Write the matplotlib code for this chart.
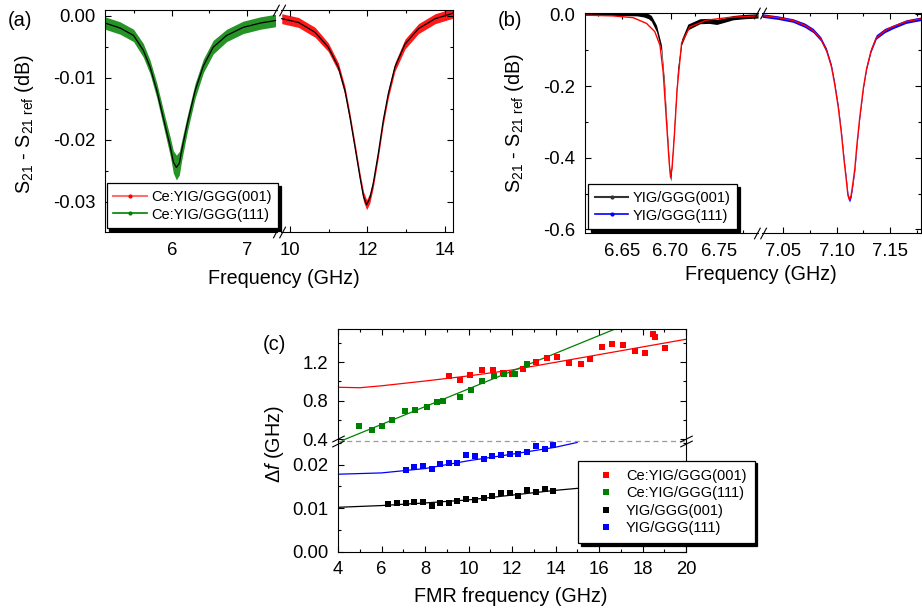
import matplotlib
matplotlib.use('Agg')
import matplotlib.pyplot as plt
from matplotlib.lines import Line2D
from matplotlib.path import Path
from matplotlib.ticker import MultipleLocator
import numpy as np

plt.rcParams['font.family'] = ['Liberation Sans', 'DejaVu Sans']
plt.rcParams['mathtext.fontset'] = 'custom'
plt.rcParams['mathtext.rm'] = 'Liberation Sans'
plt.rcParams['mathtext.it'] = 'Liberation Sans:italic'
plt.rcParams['axes.unicode_minus'] = False
plt.rcParams['axes.linewidth'] = 0.8

# ---- panel (a): Ce:YIG transmission dips
a_green_f = [5.11, 5.31, 5.49, 5.62, 5.71, 5.80, 5.89, 5.98, 6.02, 6.06, 6.10, 6.13,
             6.21, 6.31, 6.42, 6.55, 6.73, 6.95, 7.18, 7.38]
a_green_db = [-0.0012, -0.0020, -0.0032, -0.0056, -0.0083, -0.0121, -0.0167, -0.0212,
              -0.0236, -0.0245, -0.0238, -0.0218, -0.0172, -0.0121, -0.0081, -0.0051,
              -0.0032, -0.0019, -0.0012, -0.0008]
a_green_err = [0.0010, 0.0010, 0.0010, 0.0011, 0.0011, 0.0012, 0.0013, 0.0015, 0.0018, 0.0020,
               0.0019, 0.0016, 0.0013, 0.0012, 0.0011, 0.0011, 0.0010, 0.0010, 0.0010, 0.0010]

a_red_f = [9.79, 10.22, 10.65, 10.99, 11.25, 11.42, 11.55, 11.68, 11.81, 11.90, 11.98,
           12.06, 12.15, 12.28, 12.41, 12.54, 12.71, 12.97, 13.32, 13.75, 14.22]
a_red_db = [-0.0005, -0.0011, -0.0027, -0.0051, -0.0083, -0.0121, -0.0164, -0.0212,
            -0.0261, -0.0292, -0.0305, -0.0295, -0.0271, -0.0223, -0.0169, -0.0126,
            -0.0083, -0.0046, -0.0021, -0.0005, 0.0004]
a_red_err = [0.0008, 0.0008, 0.0008, 0.0007, 0.0007, 0.0007, 0.0007, 0.0007, 0.0007, 0.0008,
             0.0008, 0.0008, 0.0007, 0.0007, 0.0007, 0.0007, 0.0007, 0.0008, 0.0008, 0.0008, 0.0008]

a_xticks_left = [6, 7]
a_xticks_right = [10, 12, 14]
a_yticks = [0.00, -0.01, -0.02, -0.03]

# ---- panel (b): YIG transmission dips
b_black_f = [6.611, 6.630, 6.650, 6.665, 6.672, 6.677, 6.680, 6.6854, 6.6906, 6.694,
             6.6965, 6.699, 6.7003, 6.702, 6.7045, 6.7073, 6.7115, 6.718, 6.7305, 6.740,
             6.748, 6.756, 6.765, 6.777, 6.791]
b_black_db = [0.003, 0.003, 0.003, 0.002, -0.001, -0.005, -0.011, -0.039, -0.095, -0.207,
              -0.328, -0.440, -0.455, -0.393, -0.281, -0.160, -0.077, -0.035, -0.019, -0.018,
              -0.021, -0.016, -0.009, -0.006, -0.004]
b_black_err = [0.006, 0.006, 0.006, 0.006, 0.006, 0.007, 0.008, 0.009, 0.009, 0.009,
               0.009, 0.010, 0.010, 0.009, 0.009, 0.009, 0.008, 0.008, 0.007, 0.007,
               0.007, 0.006, 0.006, 0.006, 0.006]
b_fit1_f = [6.611, 6.640, 6.661, 6.675, 6.6836, 6.689, 6.6923, 6.6958, 6.6985, 6.700,
            6.7015, 6.7038, 6.7069, 6.7115, 6.720, 6.7375, 6.762, 6.791]
b_fit1_db = [-0.002, -0.004, -0.009, -0.025, -0.048, -0.086, -0.160, -0.300, -0.410, -0.454,
             -0.430, -0.346, -0.207, -0.080, -0.035, -0.016, -0.008, -0.004]

b_blue_f = [7.030, 7.045, 7.059, 7.070, 7.078, 7.085, 7.0904, 7.095, 7.098, 7.1015, 7.1044,
            7.107, 7.109, 7.1105, 7.112, 7.1135, 7.115, 7.117, 7.119, 7.1215, 7.125, 7.128,
            7.132, 7.137, 7.145, 7.1526, 7.165, 7.179]
b_blue_db = [-0.003, -0.009, -0.017, -0.030, -0.045, -0.068, -0.100, -0.145, -0.193, -0.260,
             -0.332, -0.410, -0.462, -0.505, -0.518, -0.505, -0.475, -0.430, -0.360, -0.286,
             -0.200, -0.147, -0.100, -0.063, -0.045, -0.035, -0.020, -0.012]
b_blue_err = [0.005] * 3 + [0.006] * 22 + [0.005] * 3
b_fit2_db = [-0.003, -0.009, -0.017, -0.030, -0.045, -0.068, -0.100, -0.145, -0.193, -0.260,
             -0.332, -0.410, -0.462, -0.505, -0.518, -0.505, -0.475, -0.430, -0.362, -0.290,
             -0.205, -0.152, -0.104, -0.066, -0.046, -0.034, -0.020, -0.012]

b_xticks_left = [6.65, 6.70, 6.75]
b_xticks_right = [7.05, 7.10, 7.15]
b_yticks = [0.0, -0.2, -0.4, -0.6]

# ---- panel (c): linewidth vs FMR frequency
c_red_f = [9.12, 9.61, 10.08, 10.64, 11.11, 11.59, 11.99, 12.52, 13.12, 13.63, 14.07, 14.61,
           15.19, 15.60, 16.13, 16.62, 17.12, 17.67, 18.13, 18.48, 18.59, 19.02]
c_red_df = [1.06, 1.02, 1.07, 1.115, 1.12, 1.09, 1.075, 1.13, 1.20, 1.24, 1.255, 1.19,
            1.18, 1.23, 1.355, 1.395, 1.385, 1.315, 1.295, 1.49, 1.465, 1.35]
c_green_f = [4.98, 5.56, 6.04, 6.48, 7.06, 7.55, 8.08, 8.56, 8.81, 9.62, 10.13, 10.64,
             11.17, 11.62, 12.15, 12.68]
c_green_df = [0.535, 0.49, 0.54, 0.595, 0.69, 0.70, 0.73, 0.785, 0.80, 0.84, 0.91, 1.01,
              1.06, 1.08, 1.08, 1.185]
c_black_f = [6.31, 6.71, 7.11, 7.51, 7.91, 8.31, 8.71, 9.10, 9.49, 9.90, 10.30, 10.70,
             11.10, 11.49, 11.89, 12.29, 12.71, 13.10, 13.50, 13.90]
c_black_df = [0.01085, 0.0113, 0.0111, 0.0114, 0.0115, 0.0106, 0.0111, 0.0111, 0.0116, 0.0121,
              0.0118, 0.0124, 0.0129, 0.0136, 0.0136, 0.0129, 0.0141, 0.0138, 0.0143, 0.0140]
c_blue_f = [7.11, 7.51, 7.91, 8.31, 8.71, 9.10, 9.49, 9.90, 10.30, 10.70, 11.10, 11.49,
            11.89, 12.29, 12.71, 13.10, 13.50, 13.90]
c_blue_df = [0.0187, 0.0194, 0.0197, 0.0190, 0.0202, 0.0203, 0.0203, 0.0222, 0.0220, 0.0214,
             0.0220, 0.0222, 0.0224, 0.0224, 0.0230, 0.0243, 0.0235, 0.0246]

# fitted curves, sampled from the figure
c_red_fit_f = [4, 5, 6, 8, 10, 12, 14, 16, 18, 20]
c_red_fit = [0.94, 0.935, 0.955, 1.005, 1.058, 1.12, 1.20, 1.28, 1.36, 1.44]
c_green_fit_f = [4.2, 17.0]
c_green_fit = [0.386, 1.571]
c_black_fit_f = [4, 6, 8, 10, 12, 14, 16]
c_black_fit = [0.0102, 0.0106, 0.0112, 0.0119, 0.0130, 0.0141, 0.0150]
c_blue_fit_f = [4, 6, 8, 10, 12, 14, 15]
c_blue_fit = [0.0178, 0.0181, 0.0191, 0.0209, 0.0224, 0.0240, 0.0251]

c_labels = ['Ce:YIG/GGG(001)', 'Ce:YIG/GGG(111)', 'YIG/GGG(001)', 'YIG/GGG(111)']
c_xticks = [4, 6, 8, 10, 12, 14, 16, 18, 20]
c_yticks_top = [0.4, 0.8, 1.2]
c_yticks_bot = [0.00, 0.01, 0.02]

W, H = 922, 609
RED, GREEN, BLUE = '#ff0000', '#008000', '#0000ff'
TICK_FS = 13.3
LABEL_FS = 14.2
LEG_FS = 10.5

SLASH = Path([(-1.4, -1.3), (0.0, 1.3), (0.0, -1.3), (1.4, 1.3)],
             [Path.MOVETO, Path.LINETO, Path.MOVETO, Path.LINETO])
FLAT_SLASH = Path([(-1.0, -0.9), (1.0, 0.1), (-1.0, -0.1), (1.0, 0.9)],
                  [Path.MOVETO, Path.LINETO, Path.MOVETO, Path.LINETO])


def box(x0, y0, x1, y1):
    """pixel box (top-left origin) -> figure fraction rect"""
    return [x0 / W, 1 - y1 / H, (x1 - x0) / W, (y1 - y0) / H]


def style_ticks(ax):
    ax.tick_params(which='both', direction='in', top=True, right=True,
                   labelsize=TICK_FS, width=0.8)
    ax.tick_params(which='major', length=4, pad=7)
    ax.tick_params(which='minor', length=2.5)


def split_x(ax1, ax2):
    ax1.spines['right'].set_visible(False)
    ax2.spines['left'].set_visible(False)
    ax1.tick_params(which='both', right=False)
    ax2.tick_params(which='both', left=False, labelleft=False)


def break_marks(fig, pts, marker, size):
    for x, y in pts:
        fig.add_artist(Line2D([x], [y], marker=marker, ms=size, mec='k', mfc='none',
                              mew=0.8, ls='none', transform=fig.transFigure))


def legend_box(fig, handles, labels, anchor, **kw):
    leg = fig.legend(handles, labels, loc='upper left', bbox_to_anchor=anchor,
                     bbox_transform=fig.transFigure, fontsize=LEG_FS, frameon=True,
                     fancybox=False, edgecolor='black', framealpha=1,
                     shadow={'color': 'black', 'alpha': 1}, borderaxespad=0, **kw)
    leg.get_frame().set_linewidth(0.9)
    return leg


def ylabel_s21(fig, x, y):
    fig.text(x / W, 1 - y / H, r'$\mathregular{S_{21}}$ - $\mathregular{S_{21\ ref}}$ (dB)',
             rotation=90, ha='center', va='center', fontsize=LABEL_FS)


def create_panel_a(fig):
    ax1 = fig.add_axes(box(105, 10, 277, 232))
    ax2 = fig.add_axes(box(281, 10, 453, 232))
    for ax in (ax1, ax2):
        style_ticks(ax)
        ax.set_ylim(-0.0349, 0.0009)
        ax.set_yticks(a_yticks)
        ax.yaxis.set_minor_locator(MultipleLocator(0.005))
    split_x(ax1, ax2)
    ax1.set_yticklabels([f'{v:.2f}' for v in a_yticks])

    g_db, g_err = np.array(a_green_db), np.array(a_green_err)
    ax1.fill_between(a_green_f, g_db - g_err, g_db + g_err, color=GREEN, lw=0, alpha=0.85)
    ax1.plot(a_green_f, a_green_db, color='k', lw=0.9)
    ax1.set_xlim(5.11, 7.40)
    ax1.set_xticks(a_xticks_left)
    ax1.set_xticklabels([str(v) for v in a_xticks_left])
    ax1.xaxis.set_minor_locator(MultipleLocator(0.5))

    r_db, r_err = np.array(a_red_db), np.array(a_red_err)
    ax2.fill_between(a_red_f, r_db - r_err, r_db + r_err, color=RED, lw=0, alpha=0.9)
    ax2.plot(a_red_f, a_red_db, color='k', lw=0.9)
    ax2.set_xlim(9.77, 14.21)
    ax2.set_xticks(a_xticks_right)
    ax2.set_xticklabels([str(v) for v in a_xticks_right])
    ax2.xaxis.set_minor_locator(MultipleLocator(1))

    p1, p2 = ax1.get_position(), ax2.get_position()
    xb = (p1.x1 + p2.x0) / 2
    break_marks(fig, [(xb, p1.y0), (xb, p1.y1)], SLASH, 9)

    handles = [Line2D([], [], color='#ff7070', lw=1.5, marker='o', ms=2, mfc=RED, mec=RED),
               Line2D([], [], color=GREEN, lw=1.2, marker='o', ms=2)]
    legend_box(fig, handles, ['Ce:YIG/GGG(001)', 'Ce:YIG/GGG(111)'],
               (106.7 / W, 1 - 183.3 / H), handlelength=2.3, handletextpad=0.3,
               labelspacing=0.25, borderpad=0.45, numpoints=1)

    ylabel_s21(fig, 24, 124)
    fig.text(284 / W, 1 - 279 / H, 'Frequency (GHz)', ha='center', va='center', fontsize=LABEL_FS)
    fig.text(8 / W, 1 - 20 / H, '(a)', ha='left', va='center', fontsize=14.5)


def create_panel_b(fig):
    ax1 = fig.add_axes(box(585, 13, 758, 233))
    ax2 = fig.add_axes(box(762, 13, 921, 233))
    for ax in (ax1, ax2):
        style_ticks(ax)
        ax.set_ylim(-0.61, 0.004)
        ax.set_yticks(b_yticks)
        ax.yaxis.set_minor_locator(MultipleLocator(0.1))
        ax.xaxis.set_minor_locator(MultipleLocator(0.025))
    split_x(ax1, ax2)
    ax1.set_yticklabels([f'{v:.1f}' for v in b_yticks])

    k_db, k_err = np.array(b_black_db), np.array(b_black_err)
    ax1.fill_between(b_black_f, k_db - k_err, k_db + k_err, color='k', lw=0)
    ax1.plot(b_fit1_f, b_fit1_db, color=RED, lw=1.0)
    ax1.set_xlim(6.611, 6.791)
    ax1.set_xticks(b_xticks_left)
    ax1.set_xticklabels([f'{v:.2f}' for v in b_xticks_left])

    u_db, u_err = np.array(b_blue_db), np.array(b_blue_err)
    ax2.fill_between(b_blue_f, u_db - u_err, u_db + u_err, color=BLUE, lw=0)
    ax2.plot(b_blue_f, b_fit2_db, color=RED, lw=1.0)
    ax2.set_xlim(7.030, 7.179)
    ax2.set_xticks(b_xticks_right)
    ax2.set_xticklabels([f'{v:.2f}' for v in b_xticks_right])

    p1, p2 = ax1.get_position(), ax2.get_position()
    xb = (p1.x1 + p2.x0) / 2
    break_marks(fig, [(xb, p1.y0), (xb, p1.y1)], SLASH, 9)

    handles = [Line2D([], [], color='#333333', lw=1.5, marker='o', ms=2),
               Line2D([], [], color=BLUE, lw=1.2, marker='o', ms=2)]
    legend_box(fig, handles, ['YIG/GGG(001)', 'YIG/GGG(111)'],
               (588.3 / W, 1 - 184.3 / H), handlelength=2.3, handletextpad=0.3,
               labelspacing=0.25, borderpad=0.45, numpoints=1)

    ylabel_s21(fig, 515, 123)
    fig.text(761 / W, 1 - 275 / H, 'Frequency (GHz)', ha='center', va='center', fontsize=LABEL_FS)
    fig.text(498 / W, 1 - 20 / H, '(b)', ha='left', va='center', fontsize=14.5)


def create_panel_c(fig):
    ax_t = fig.add_axes(box(338, 329, 686, 440.7))
    ax_b = fig.add_axes(box(338, 440.7, 686, 551.7))
    for ax in (ax_t, ax_b):
        style_ticks(ax)
        ax.set_xlim(4, 20)
        ax.set_xticks(c_xticks)
        ax.xaxis.set_minor_locator(MultipleLocator(1))
    ax_t.spines['bottom'].set_visible(False)
    ax_b.spines['top'].set_visible(False)
    ax_t.tick_params(which='both', bottom=False, labelbottom=False)
    ax_b.tick_params(which='both', top=False)
    ax_b.set_xticklabels([str(v) for v in c_xticks])

    ax_t.set_ylim(0.383, 1.547)
    ax_t.set_yticks(c_yticks_top)
    ax_t.set_yticklabels([f'{v:.1f}' for v in c_yticks_top])
    ax_t.yaxis.set_minor_locator(MultipleLocator(0.2))
    ax_b.set_ylim(0, 0.0255)
    ax_b.set_yticks(c_yticks_bot)
    ax_b.set_yticklabels([f'{v:.2f}' for v in c_yticks_bot])
    ax_b.yaxis.set_minor_locator(MultipleLocator(0.005))

    ms = 4.3
    ax_t.plot(c_red_fit_f, c_red_fit, color=RED, lw=0.9)
    ax_t.plot(c_green_fit_f, c_green_fit, color=GREEN, lw=0.9)
    h_red, = ax_t.plot(c_red_f, c_red_df, 's', color=RED, ms=ms, mew=0)
    h_green, = ax_t.plot(c_green_f, c_green_df, 's', color=GREEN, ms=ms, mew=0)
    ax_b.plot(c_black_fit_f, c_black_fit, color='k', lw=0.9)
    ax_b.plot(c_blue_fit_f, c_blue_fit, color=BLUE, lw=0.9)
    h_black, = ax_b.plot(c_black_f, c_black_df, 's', color='k', ms=ms, mew=0)
    h_blue, = ax_b.plot(c_blue_f, c_blue_df, 's', color=BLUE, ms=ms, mew=0)

    # dashed separator between the two y ranges
    ax_b.plot([0, 1], [1, 1], transform=ax_b.transAxes, ls=(0, (4, 3)), color='#999999',
              lw=0.9, clip_on=False)
    pb = ax_b.get_position()
    break_marks(fig, [(pb.x0, pb.y1), (pb.x1, pb.y1)], FLAT_SLASH, 9)

    legend_box(fig, [h_red, h_green, h_black, h_blue], c_labels,
               (578 / W, 1 - 460.7 / H), handlelength=2.7, handletextpad=0.05,
               labelspacing=0.24, borderpad=0.55, numpoints=1, markerscale=1.0)

    fig.text(275 / W, 1 - 444 / H, r'$\mathregular{\Delta}\mathit{f}$ (GHz)', rotation=90,
             ha='center', va='center', fontsize=LABEL_FS)
    fig.text(511 / W, 1 - 597 / H, 'FMR frequency (GHz)', ha='center', va='center',
             fontsize=LABEL_FS)
    fig.text(263 / W, 1 - 344 / H, '(c)', ha='left', va='center', fontsize=14.5)


def main():
    fig = plt.figure(figsize=(W / 100, H / 100), dpi=100)
    create_panel_a(fig)
    create_panel_b(fig)
    create_panel_c(fig)
    fig.savefig('out.png', dpi=100)
    plt.close(fig)


if __name__ == '__main__':
    main()
